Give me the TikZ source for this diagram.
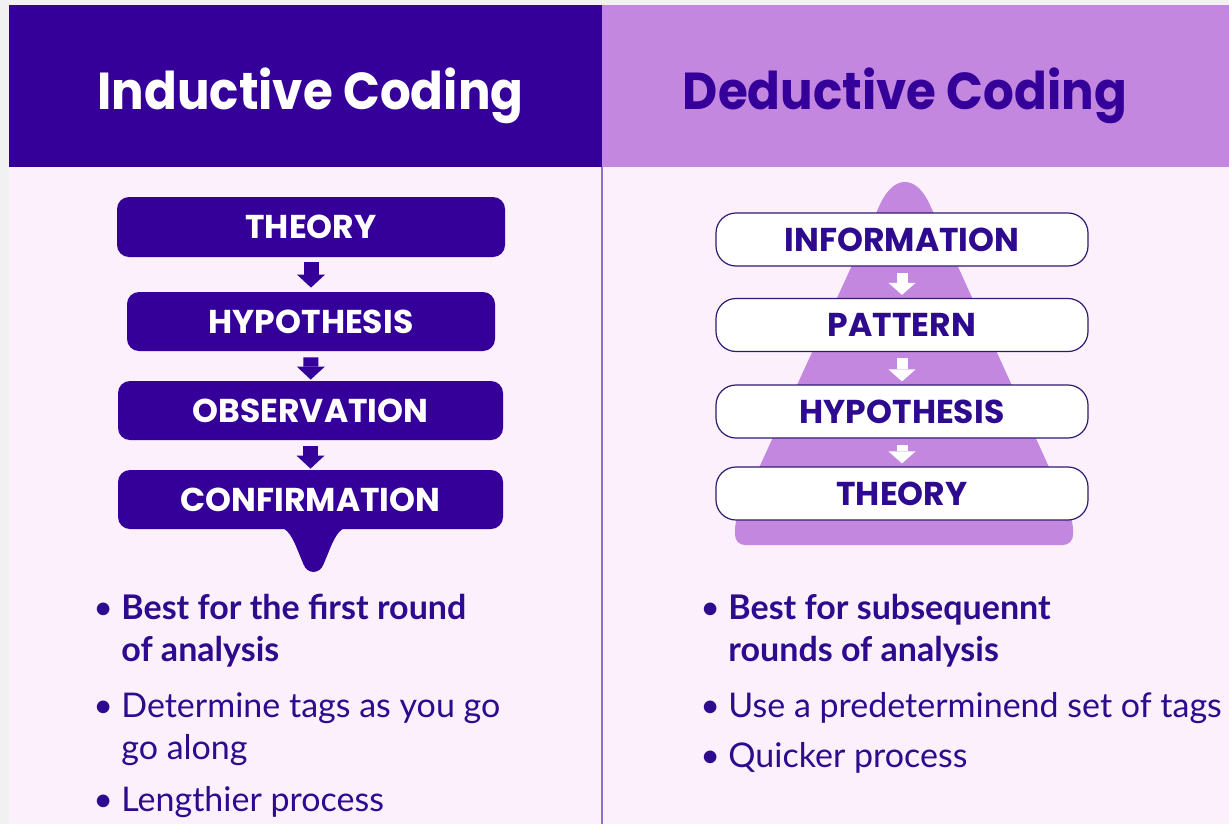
\documentclass[tikz,border=0pt]{standalone}
\usepackage{fontspec}
\setmainfont{Lato}
\newfontfamily\headfont{Poppins}
\newfontfamily\titlefont[FakeStretch=0.93]{Poppins}
\usetikzlibrary{arrows.meta, positioning, calc}

\definecolor{indigo}{HTML}{35009A}
\definecolor{lavender}{HTML}{C387E0}
\definecolor{paper}{HTML}{FBF0FB}
\definecolor{margin}{HTML}{F1F1F1}
\definecolor{ink}{HTML}{2E0A8E}
\definecolor{frame}{HTML}{2E1A72}
\definecolor{divider}{HTML}{9070CC}

\tikzset{
  headtxt/.style={font=\titlefont\bfseries\fontsize{26}{30}\selectfont, anchor=base, inner sep=0pt},
  indbox/.style={fill=indigo, rounded corners=6pt, minimum height=29.5pt, minimum width=192.5pt,
    text=white, font=\headfont\bfseries\fontsize{16.5}{18}\selectfont, inner sep=0pt},
  dedbox/.style={fill=white, draw=frame, line width=0.6pt, rounded corners=10pt, minimum height=26.5pt,
    minimum width=186pt, text=ink, font=\headfont\bfseries\fontsize{16.5}{18}\selectfont, inner sep=0pt},
  downarr/.style={line width=7.5pt, -{Triangle[width=14pt, length=6.5pt, line width=0pt]}},
  bultxt/.style={anchor=base west, inner sep=0pt, text=ink, font=\fontsize{17}{20}\selectfont},
  bulbold/.style={bultxt, font=\bfseries\fontsize{17}{20}\selectfont}
}

\begin{document}
\begin{tikzpicture}[x=0.5pt, y=-0.5pt]
\useasboundingbox (0,0) rectangle (1229,824);
% background and headers
\fill[margin] (0,0) rectangle (1229,824);
\fill[paper] (9,167) rectangle (1229,824);
\fill[indigo] (9,5) rectangle (602,167);
\fill[lavender] (602,5) rectangle (1229,167);
\draw[divider, line width=0.75pt] (602,167) -- (602,824);
\node[headtxt, text=white] (ihead) at (310.5,110) {Inductive Coding};
\node[headtxt, text=indigo] (dhead) at (905,110) {Deductive Coding};

% inductive steps
\node[indbox, minimum width=194pt, minimum height=30pt] (ithe) at (311,227) {THEORY};
\node[indbox, minimum width=184pt] (ihyp) at (311,321.5) {HYPOTHESIS};
\node[indbox] (iobs) at (310.5,410.5) {OBSERVATION};
\node[indbox] (icon) at (310.5,499.5) {CONFIRMATION};
\begin{scope}[shift={(icon.south)}]
\fill[indigo] (-36,-4) .. controls (-24,-2) and (-20,4) .. (-14,18) -- (-7,35)
  .. controls (-3,45) and (9,45) .. (13,35) -- (20,18)
  .. controls (26,4) and (30,-2) .. (42,-4) -- cycle;
\end{scope}
\draw[downarr, indigo, shorten <=2.5pt, shorten >=2pt] (ithe) -- (ihyp);
\draw[downarr, indigo, shorten <=3pt, shorten >=0.5pt] (ihyp) -- (iobs);
\draw[downarr, indigo, shorten <=3pt, shorten >=0.5pt] (iobs) -- (icon);

% deductive pyramid
\fill[lavender] (820,545) [rounded corners=5pt] -- (735,545) -- (735,520)
  [rounded corners=30pt] -- (905,150) [rounded corners=5pt] -- (1073,520) -- (1073,545) -- cycle;
\node[dedbox] (dinf) at (902,239.5) {INFORMATION};
\node[dedbox] (dpat) at (902,325) {PATTERN};
\node[dedbox] (dhyp) at (902,411.5) {HYPOTHESIS};
\node[dedbox] (dthe) at (902,493.5) {THEORY};
\foreach \a/\b in {dinf/dpat, dpat/dhyp, dhyp/dthe}
  \draw[white, line width=5.5pt, -{Triangle[width=13.5pt, length=6pt, line width=0pt]},
    shorten <=3pt, shorten >=1.5pt] (\a) -- (\b);

% inductive notes
\node[bultxt] (ib1) at (93,619) {•};
\node[bulbold] (ib1a) at (121,619) {Best for the first round};
\node[bulbold] (ib1b) at (121,661) {of analysis};
\node[bultxt] (ib2) at (93,717) {•};
\node[bultxt] (ib2a) at (121,717) {Determine tags as you go};
\node[bultxt] (ib2b) at (121,759) {go along};
\node[bultxt] (ib3) at (93,811) {•};
\node[bultxt] (ib3a) at (121,811) {Lengthier process};

% deductive notes
\node[bultxt] (db1) at (700,619) {•};
\node[bulbold] (db1a) at (728,619) {Best for subsequennt};
\node[bulbold] (db1b) at (728,661) {rounds of analysis};
\node[bultxt] (db2) at (700,717) {•};
\node[bultxt] (db2a) at (728,717) {Use a predeterminend set of tags};
\node[bultxt] (db3) at (700,767) {•};
\node[bultxt] (db3a) at (728,767) {Quicker process};
\end{tikzpicture}
\end{document}
